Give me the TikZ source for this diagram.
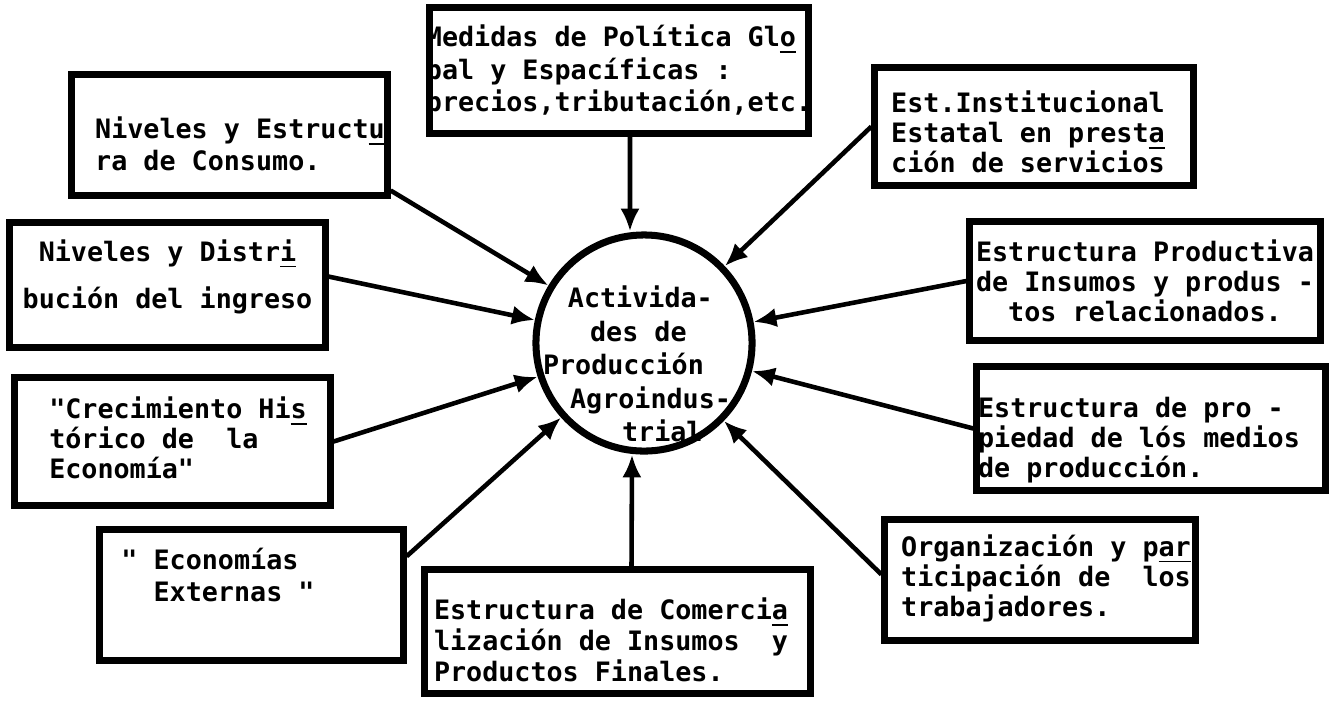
\documentclass[tikz,border=0pt]{standalone}
\usepackage{fontspec}
\setmonofont{DejaVu Sans Mono}
\usetikzlibrary{arrows.meta}

\begin{document}
\begin{tikzpicture}
        [x=0.01cm,y=-0.01cm,%%%%%%%%%%%%%%%%%%%%%%%%%%%%%%
        caja/.style={rectangle,draw=black,line width=2pt,inner sep=0pt},
        letra/.style={inner sep=0pt,align=left,font={\ttfamily\bfseries\fontsize{7.6}{#1}\selectfont\lineskiplimit=-20pt}},
        circulo/.style={circle,draw=black,line width=2pt,minimum size=2.16cm,inner sep=0pt},
        flecha/.style={-{Latex[length=6.5pt,width=5.5pt]},line width=1.3pt},
        ]%%%%%%%%%%%%%%%%%%%%%%%%%%%%%%

        \useasboundingbox (0,0) rectangle (1330,702);

        % centro
        \node[circulo] (act) at (644,343) {};
        \node[letra=9.5pt] (tact) at (637,364)
          {\hspace*{7.1pt}Activida-\\\hspace*{13.4pt}des de\\Producción\\\hspace*{7.7pt}Agroindus-\\\hspace*{22.5pt}trial};

        % cajas
        \node[caja,minimum width=3.78cm,minimum height=1.25cm] (medidas) at (619,70.5) {};
        \node[letra=9.2pt] (tmedidas) at (619,71)
          {Medidas de Política Gl\underline{o}\\bal y Espacíficas :\\precios,tributación,etc.};

        \node[caja,minimum width=3.15cm,minimum height=1.2cm] (consumo) at (229.5,135) {};
        \node[letra=9.1pt] (tconsumo) at (240,144)
          {Niveles y Estruct\underline{u}\\ra de Consumo.};

        \node[caja,minimum width=3.15cm,minimum height=1.24cm] (distri) at (167.5,285) {};
        \node[letra=13.4pt,align=center] (tdistri) at (167.5,277)
          {Niveles y Distr\underline{i}\\bución del ingreso};

        \node[caja,minimum width=3.15cm,minimum height=1.27cm] (crec) at (172.5,441.5) {};
        \node[letra=8.5pt] (tcrec) at (178,438)
          {"Crecimiento Hi\underline{s}\\tórico de\ \ la\\Economía"};

        \node[caja,minimum width=3.03cm,minimum height=1.3cm] (econ) at (251.5,595) {};
        \node[letra=9.1pt] (tecon) at (218,575)
          {" Economías\\\hphantom{"\ }Externas "};

        \node[caja,minimum width=3.85cm,minimum height=1.23cm] (comer) at (617.5,631.5) {};
        \node[letra=8.8pt] (tcomer) at (611,640)
          {Estructura de Comerci\underline{a}\\lización de Insumos\ \ y\\Productos Finales.};

        \node[caja,minimum width=3.1cm,minimum height=1.2cm] (org) at (1040,580) {};
        \node[letra=8.5pt] (torg) at (1046,578)
          {Organización y p\underline{ar}\\ticipación de\ \ los\\trabajadores.};

        \node[caja,minimum width=3.48cm,minimum height=1.23cm] (prop) at (1151,428.5) {};
        \node[letra=8.5pt] (tprop) at (1139,440)
          {Estructura de pro -\\piedad de lós medios\\de producción.};

        \node[caja,minimum width=3.5cm,minimum height=1.18cm] (prod) at (1145,281) {};
        \node[letra=8.5pt,align=center] (tprod) at (1145,281)
          {Estructura Productiva\\de Insumos y produs -\\tos relacionados.};

        \node[caja,minimum width=3.18cm,minimum height=1.17cm] (inst) at (1034,126.5) {};
        \node[letra=8.5pt] (tinst) at (1028,132)
          {Est.Institucional\\Estatal en prest\underline{a}\\ción de servicios};

        % flechas
        \draw[flecha] ([xshift=0.11cm]medidas.south) -- ([xshift=-0.14cm]act.north);
        \draw[flecha] (consumo.-19) -- (act);
        \draw[flecha] (distri.3) -- (act);
        \draw[flecha] (crec.east) -- (act);
        \draw[flecha] (econ.14) -- (act);
        \draw[flecha] ([xshift=0.14cm]comer.north) -- ([xshift=-0.12cm]act.south);
        \draw[flecha] (org.178) -- (act);
        \draw[flecha] (prop.west) -- (act);
        \draw[flecha] (prod.west) -- (act);
        \draw[flecha] (inst.west) -- (act);

\end{tikzpicture}
\end{document}
